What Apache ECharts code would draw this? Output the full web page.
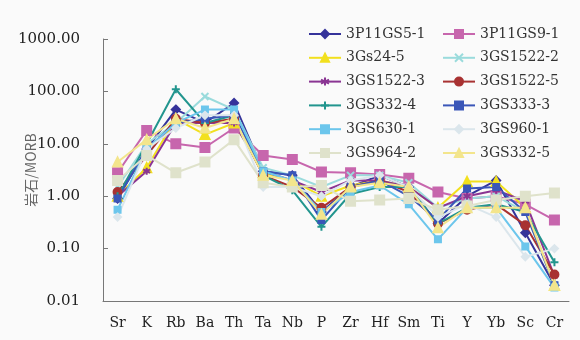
<!DOCTYPE html>
<html>
<head>
<meta charset="utf-8">
<script src="https://cdn.jsdelivr.net/npm/echarts@6/dist/echarts.min.js"></script>
<style>
  html, body { margin: 0; padding: 0; background: #fafafa; }
  #chart { width: 580px; height: 340px; }
</style>
</head>
<body>
<div id="chart"></div>
<script>
// 元素 (MORB 标准化)
const elements = ['Sr', 'K', 'Rb', 'Ba', 'Th', 'Ta', 'Nb', 'P', 'Zr', 'Hf', 'Sm', 'Ti', 'Y', 'Yb', 'Sc', 'Cr'];

const s3P11GS5_1 = [0.9, 8, 45, 25, 60, 3, 2.5, 0.5, 1.5, 2.5, 1.5, 0.3, 1.0, 2.0, 0.2, 0.02];
const s3P11GS9_1 = [2.8, 18, 10, 8.5, 20, 6, 5, 2.9, 2.8, 2.6, 2.2, 1.2, 0.9, 1.0, 0.7, 0.35];
const s3Gs24_5 = [1.0, 3.5, 30, 15, 25, 2.8, 2, 1.0, 1.6, 2.0, 1.5, 0.6, 1.9, 1.9, 0.6, 0.02];
const s3GS1522_2 = [1.5, 10, 25, 80, 45, 3.5, 2.5, 1.5, 2.5, 2.5, 1.8, 0.6, 0.9, 1.0, 0.5, 0.02];
const s3GS1522_3 = [1.0, 3, 25, 25, 25, 3, 2, 1.2, 2, 2, 1.5, 0.6, 1.0, 1.3, 0.8, 0.03];
const s3GS1522_5 = [1.2, 6, 30, 25, 30, 2.5, 1.5, 0.6, 1.5, 2.0, 1.2, 0.3, 0.55, 0.7, 0.28, 0.032];
const s3GS332_4 = [1.0, 10, 110, 25, 35, 2.5, 1.3, 0.26, 1.1, 1.5, 1.5, 0.3, 0.6, 0.7, 0.5, 0.055];
const s3GS333_3 = [0.9, 8, 25, 30, 35, 3, 2.5, 0.35, 1.5, 2.0, 1.0, 0.35, 1.4, 1.5, 0.5, 0.02];
const s3GS630_1 = [0.55, 8, 25, 45, 45, 3, 2, 0.5, 1.2, 1.6, 0.7, 0.15, 0.6, 0.6, 0.11, 0.018];
const s3GS960_1 = [0.4, 8, 20, 35, 35, 1.5, 1.5, 1.0, 2.0, 2.5, 1.5, 0.4, 0.7, 0.4, 0.07, 0.1];
const s3GS964_2 = [2.0, 6, 2.8, 4.5, 12, 1.8, 1.5, 1.6, 0.8, 0.85, 0.9, 0.55, 0.65, 0.85, 1.0, 1.15];
const s3GS332_5 = [4.5, 12, 30, 20, 30, 2.5, 2, 0.45, 1.5, 1.8, 1.5, 0.25, 0.6, 0.6, 0.6, 0.02];

const yTicks = ['0.01', '0.10', '1.00', '10.00', '100.00', '1000.00'];

const xPath = 'path://M0,0L10,10M10,0L0,10';
const plusPath = 'path://M5,0L5,10M0,5L10,5';
const starPath = 'path://M5,0L5,10M0,2.5L10,7.5M0,7.5L10,2.5';

function line(name, data, color, symbol, size) {
  return {
    name: name,
    type: 'line',
    data: data,
    symbol: symbol,
    symbolSize: size,
    lineStyle: { width: 2, color: color },
    itemStyle: { color: color, borderColor: color, borderWidth: 2 },
    emphasis: { disabled: true }
  };
}

const chart = echarts.init(document.getElementById('chart'));
const font = 'DejaVu Serif';
const option = {
  backgroundColor: '#fafafa',
  animation: false,
  grid: { left: 103, right: 11, top: 39, bottom: 39, outerBoundsMode: 'none' },
  legend: [
    {
      orient: 'vertical', left: 303, top: 21, itemWidth: 32, itemHeight: 10, itemGap: 7.8,
      textStyle: { fontFamily: font, fontSize: 14, color: '#333', lineHeight: 16 },
      data: ['3P11GS5-1', '3Gs24-5', '3GS1522-3', '3GS332-4', '3GS630-1', '3GS964-2']
    },
    {
      orient: 'vertical', left: 437, top: 21, itemWidth: 32, itemHeight: 10, itemGap: 7.8,
      textStyle: { fontFamily: font, fontSize: 14, color: '#333', lineHeight: 16 },
      data: ['3P11GS9-1', '3GS1522-2', '3GS1522-5', '3GS333-3', '3GS960-1', '3GS332-5']
    }
  ],
  xAxis: {
    type: 'category',
    data: elements,
    boundaryGap: true,
    axisLine: { lineStyle: { color: '#777', width: 1 } },
    axisTick: { inside: true, length: 5, lineStyle: { color: '#777' } },
    axisLabel: { interval: 0, fontFamily: font, fontSize: 14, color: '#222', margin: 15 }
  },
  yAxis: {
    type: 'log',
    logBase: 10,
    min: 0.01,
    max: 1000,
    name: '岩石/MORB',
    nameLocation: 'middle',
    nameGap: 65,
    nameMoveOverlap: false,
    nameTextStyle: { fontFamily: 'Noto Sans CJK SC', fontSize: 14, color: '#666' },
    axisLine: { show: true, lineStyle: { color: '#777', width: 1 } },
    axisTick: { show: true, inside: true, length: 5, lineStyle: { color: '#777' } },
    splitLine: { show: false },
    axisLabel: {
      fontFamily: font, fontSize: 15, color: '#222', margin: 23,
      formatter: function (v) {
        const i = Math.round(Math.log10(v)) + 2;
        return yTicks[i] !== undefined ? yTicks[i] : '';
      }
    }
  },
  series: [
    line('3P11GS5-1', s3P11GS5_1, '#35339a', 'diamond', 8),
    line('3P11GS9-1', s3P11GS9_1, '#c766ad', 'rect', 9),
    line('3Gs24-5', s3Gs24_5, '#f2e01e', 'triangle', 9),
    line('3GS1522-2', s3GS1522_2, '#9adbdc', xPath, 7),
    line('3GS1522-3', s3GS1522_3, '#8a3593', starPath, 7),
    line('3GS1522-5', s3GS1522_5, '#a83232', 'circle', 8),
    line('3GS332-4', s3GS332_4, '#22958e', plusPath, 8),
    line('3GS333-3', s3GS333_3, '#3a56b8', 'rect', 6),
    line('3GS630-1', s3GS630_1, '#6cc6ec', 'rect', 6),
    line('3GS960-1', s3GS960_1, '#dbe6ec', 'diamond', 7),
    line('3GS964-2', s3GS964_2, '#dfe2cb', 'rect', 9),
    line('3GS332-5', s3GS332_5, '#f3e58c', 'triangle', 9)
  ]
};
chart.setOption(option);
</script>
</body>
</html>
